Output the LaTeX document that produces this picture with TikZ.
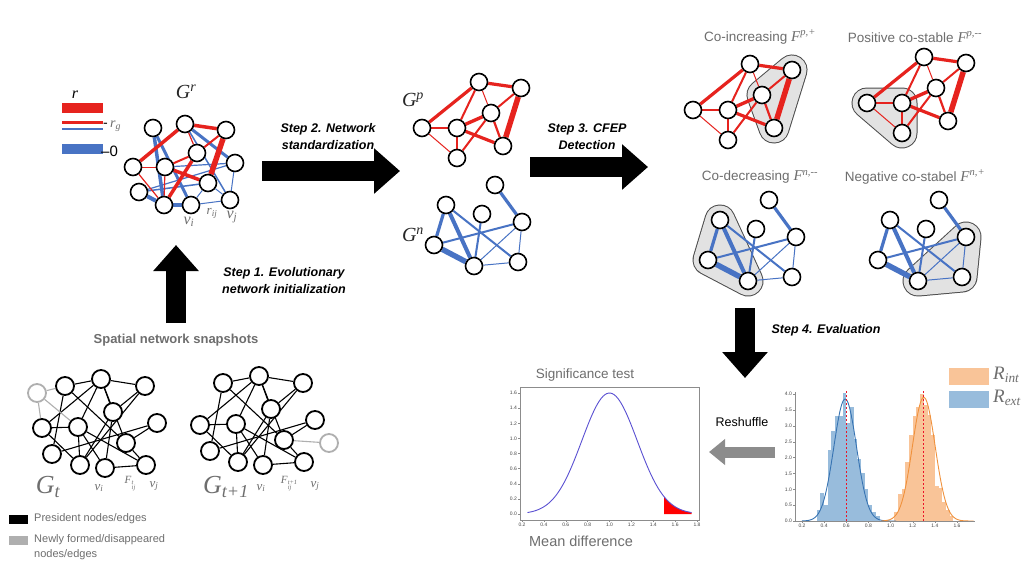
\documentclass[tikz,border=0pt]{standalone}
\usepackage{fontspec}
\setmainfont{Liberation Sans}
\newfontfamily\serif{Liberation Serif}
\usetikzlibrary{arrows.meta}
\pgfdeclarelayer{bgl}
\pgfdeclarelayer{hl}
\pgfdeclarelayer{edges}
\pgfsetlayers{bgl,hl,edges,main}
\definecolor{rr}{RGB}{230,35,30}
\definecolor{bb}{RGB}{72,115,196}
\definecolor{tx}{RGB}{110,110,110}
\definecolor{hlg}{RGB}{226,226,226}
\definecolor{lg}{RGB}{175,175,175}
\definecolor{blu}{RGB}{152,188,220}
\definecolor{ora}{RGB}{249,196,152}
\definecolor{blul}{RGB}{55,115,178}
\definecolor{oral}{RGB}{240,145,60}
\definecolor{curv}{RGB}{90,80,210}
\definecolor{ax}{RGB}{140,140,140}
\definecolor{tk}{RGB}{70,70,70}
\definecolor{dred}{RGB}{235,20,40}
\newcommand\Fm[1]{{\fontsize{15}{15}\selectfont\serif\itshape F\textsuperscript{#1}}}
\newcommand\Fst[1]{F\kern0.3pt\raisebox{-3.2pt}{\fontsize{6.5}{6.5}\selectfont\begin{tabular}{@{}l@{}}#1\\[-1.2pt]ij\end{tabular}}}
\newcommand\posnet{%
  \node[nd] (p1) at (57,-46) {};
  \node[nd] (p2) at (99,-40) {};
  \node[nd] (p3) at (69,-15) {};
  \node[nd] (p4) at (0,0) {};
  \node[nd] (p5) at (35,0) {};
  \node[nd] (p6) at (81,18) {};
  \node[nd] (p7) at (35,30) {};
  \begin{pgfonlayer}{edges}
  \foreach \a/\b/\w in {p1/p2/3.2,p1/p4/3.2,p1/p5/2,p1/p3/1,p2/p3/2,p2/p6/5.5,p3/p5/3.4,p3/p6/2.2,p3/p7/2,p5/p6/3.2,p4/p5/1.3,p4/p7/1,p5/p7/1.6}
    \draw[rr,line width=\w pt] (\a) -- (\b);
  \end{pgfonlayer}}
\newcommand\negnet{%
  \node[nd] (n1) at (61,-60) {};
  \node[nd] (n2) at (12,-40) {};
  \node[nd] (n3) at (48,-31) {};
  \node[nd] (n4) at (88,-23) {};
  \node[nd] (n5) at (0,0) {};
  \node[nd] (n6) at (40,21) {};
  \node[nd] (n7) at (84,17) {};
  \begin{pgfonlayer}{edges}
  \foreach \a/\b/\w in {n1/n4/3.2,n2/n5/3.2,n2/n6/4,n5/n6/5.5,n2/n7/2,n5/n4/2,n3/n6/2,n4/n6/1,n4/n7/1,n6/n7/1}
    \draw[bb,line width=\w pt] (\a) -- (\b);
  \end{pgfonlayer}}
\newcommand\snapnet{%
  \node[snd] (s1) at (23,-42) {};
  \node[snd] (s2) at (59,-49) {};
  \node[snd] (s3) at (103,-42) {};
  \node[snd] (s4) at (71,-16) {};
  \node[snd] (s5) at (0,0) {};
  \node[snd] (s6) at (36,-1) {};
  \node[snd] (s7) at (115,-5) {};
  \node[snd] (s8) at (84,15) {};
  \node[snd] (s9) at (10,26) {};
  \node[snd] (s10) at (38,37) {};
  \node[snd] (s11) at (63,40) {};
  \node[snd] (s12) at (104,37) {};
  \begin{pgfonlayer}{edges}
  \foreach \a/\b in {s1/s2,s2/s3,s1/s9,s1/s8,s2/s5,s2/s6,s2/s4,s2/s8,s3/s4,s3/s10,s4/s11,s4/s10,s5/s6,s9/s7,s6/s10,s6/s11,s6/s12,s8/s12,s11/s12,s7/s8,s5/s10}
    \draw[line width=1.1pt] (\a) -- (\b);
  \end{pgfonlayer}}
\newcommand\hull[3]{%
  \begin{pgfonlayer}{hl}
  \draw[line width=31pt,line join=round,black!70] (#1.center) -- (#2.center) -- (#3.center) -- cycle;
  \filldraw[line width=29pt,line join=round,draw=hlg,fill=hlg] (#1.center) -- (#2.center) -- (#3.center) -- cycle;
  \end{pgfonlayer}}
\begin{document}
\begin{tikzpicture}[x=1pt,y=-1pt,
  nd/.style={circle,draw,line width=1.6pt,fill=white,minimum size=17pt,inner sep=0pt},
  snd/.style={nd,minimum size=18pt,line width=1.8pt},
  gnd/.style={snd,draw=lg},
  stepl/.style={font=\fontsize{12.5}{17}\selectfont\bfseries\itshape,align=center},
  ttl/.style={font=\fontsize{13.5}{15}\selectfont,text=tx},
  lab/.style={font=\fontsize{16}{16}\selectfont\serif\itshape,text=tx,inner sep=0pt},
  glab/.style={lab,text=black!85,font=\fontsize{20}{20}\selectfont\serif\itshape},
  bigarrow/.style={line width=20pt,-{Triangle[length=26pt,width=44pt]}},
  grayarrow/.style={line width=11pt,draw=ax,-{Triangle[length=16pt,width=25pt]}},
  tick/.style={font=\fontsize{5}{6}\selectfont,text=tk,inner sep=1pt}]
\useasboundingbox (0,0) rectangle (1024,576);
\begin{pgfonlayer}{bgl}
\fill[white] (0,0) rectangle (1024,576);
\end{pgfonlayer}

% ---------- G^r ----------
\node[glab] (grl) at (186,92) {G\textsuperscript{r}};
\node[nd] (rA) at (153,128) {};
\node[nd] (rB) at (185,124) {};
\node[nd] (rC) at (226,130) {};
\node[nd] (rD) at (197,153) {};
\node[nd] (rE) at (133,167) {};
\node[nd] (rF) at (165,167) {};
\node[nd] (rG) at (235,163) {};
\node[nd] (rH) at (208,183) {};
\node[nd] (rI) at (139,192) {};
\node[nd] (rJ) at (164,205) {};
\node[nd] (rK) at (191,205) {};
\node[nd] (rL) at (230,200) {};
\begin{pgfonlayer}{edges}
\foreach \a/\b/\w in {rA/rJ/3.5,rA/rK/3,rI/rJ/4,rJ/rK/4,rB/rG/3,rB/rL/1.5,rI/rG/1.2,rF/rG/1.2,rK/rL/1,rH/rL/1,rG/rL/1,rK/rH/1,rI/rH/1.5}
  \draw[bb,line width=\w pt] (\a) -- (\b);
\foreach \a/\b/\w in {rB/rC/3.5,rC/rH/5.5,rB/rE/3.5,rE/rF/1,rE/rJ/1.2,rD/rF/2,rD/rJ/3.5,rF/rH/3.5,rF/rJ/1.2,rB/rD/1.2,rC/rD/2}
  \draw[rr,line width=\w pt] (\a) -- (\b);
\end{pgfonlayer}
\node[lab] (rvi) at (189,222) {v\textsubscript{i}};
\node[lab,font=\fontsize{13}{13}\selectfont\serif\itshape] (rrij) at (212,213) {r\textsubscript{ij}};
\node[lab] (rvj) at (232,217) {v\textsubscript{j}};
% r legend
\node[lab,text=black] (rlab) at (75,95) {r};
\fill[rr] (62,103) rectangle (103,113);
\draw[rr,line width=3pt] (62,122) -- (103,122);
\draw[bb,line width=2.2pt] (62,129) -- (103,129);
\fill[bb] (62,144) rectangle (103,154);
\node[anchor=west,inner sep=0pt,font=\fontsize{14}{14}\selectfont] (rgl) at (103,126) {-\,{\serif\itshape\color{tx}r\textsubscript{g}}};
\node[anchor=west,inner sep=0pt,font=\fontsize{15}{15}\selectfont] (r0l) at (101,151) {--0};

% ---------- arrows ----------
\coordinate (a2s) at (262,171); \coordinate (a2e) at (400,171);
\draw[bigarrow] (a2s) -- (a2e);
\node[stepl] (t2) at (328,137) {Step 2. Network\\standardization};
\coordinate (a3s) at (530,167); \coordinate (a3e) at (648,167);
\draw[bigarrow] (a3s) -- (a3e);
\node[stepl] (t3) at (587,137) {Step 3. CFEP\\Detection};
\coordinate (a1s) at (176,323); \coordinate (a1e) at (176,245);
\draw[bigarrow] (a1s) -- (a1e);
\node[stepl] (t1) at (284,281) {Step 1. Evolutionary\\network initialization};
\coordinate (a4s) at (745,308); \coordinate (a4e) at (745,378);
\draw[bigarrow] (a4s) -- (a4e);
\node[stepl] (t4) at (826,330) {Step 4. Evaluation};
\coordinate (a5s) at (775,452); \coordinate (a5e) at (709,452);
\draw[grayarrow] (a5s) -- (a5e);
\node[font=\fontsize{12.5}{14}\selectfont] (t5) at (742,422) {Reshuffle};

% ---------- G^p and G^n ----------
\begin{scope}[shift={(422,128)},name prefix=gp-]
\posnet
\end{scope}
\node[glab] (gpl) at (413,100) {G\textsuperscript{p}};
\begin{scope}[shift={(434,245)},name prefix=gn-]
\negnet
\end{scope}
\node[glab] (gnl) at (413,235) {G\textsuperscript{n}};

% ---------- CFEP results ----------
\node[ttl] (tfa) at (760,37) {Co-increasing \Fm{p,+}};
\begin{scope}[shift={(693,110)},name prefix=fa-]
\posnet
\hull{p2}{p3}{p6}
\end{scope}
\node[ttl] (tfb) at (915,37) {Positive co-stable \Fm{p,--}};
\begin{scope}[shift={(867,103)},name prefix=fb-]
\posnet
\hull{p4}{p5}{p7}
\end{scope}
\node[ttl] (tfc) at (760,177) {Co-decreasing \Fm{n,--}};
\begin{scope}[shift={(708,260)},name prefix=fc-]
\negnet
\hull{n2}{n5}{n6}
\end{scope}
\node[ttl] (tfd) at (915,177) {Negative co-stabel \Fm{n,+}};
\begin{scope}[shift={(878,260)},name prefix=fd-]
\negnet
\hull{n4}{n6}{n7}
\end{scope}

% ---------- snapshots ----------
\node[font=\fontsize{13}{15}\selectfont\bfseries,text=tx] (snt) at (176,340) {Spatial network snapshots};
\begin{scope}[shift={(42,428)},name prefix=gt-]
\snapnet
\node[gnd] (s0) at (-5,-35) {};
\begin{pgfonlayer}{edges}
\foreach \b in {s1,s5,s6} \draw[lg,line width=1.1pt] (s0) -- (\b);
\end{pgfonlayer}
\end{scope}
\begin{scope}[shift={(200,425)},name prefix=gu-]
\snapnet
\node[gnd] (s0) at (129,18) {};
\begin{pgfonlayer}{edges}
\draw[lg,line width=1.1pt] (s0) -- (s8);
\end{pgfonlayer}
\end{scope}
\node[lab,font=\fontsize{26}{26}\selectfont\serif\itshape] (gtl) at (48,487) {G\textsubscript{t}};
\node[lab,font=\fontsize{26}{26}\selectfont\serif\itshape] (gul) at (226,487) {G\textsubscript{t+1}};
\node[lab,font=\fontsize{13}{13}\selectfont\serif\itshape] (tvi) at (99,488) {v\textsubscript{i}};
\node[lab,font=\fontsize{11}{11}\selectfont\serif\itshape] (tF) at (130,484) {\Fst{t}};
\node[lab,font=\fontsize{13}{13}\selectfont\serif\itshape] (tvj) at (154,486) {v\textsubscript{j}};
\node[lab,font=\fontsize{13}{13}\selectfont\serif\itshape] (uvi) at (261,488) {v\textsubscript{i}};
\node[lab,font=\fontsize{11}{11}\selectfont\serif\itshape] (uF) at (289,484) {\Fst{t+1}};
\node[lab,font=\fontsize{13}{13}\selectfont\serif\itshape] (uvj) at (315,486) {v\textsubscript{j}};
% legend
\node[fill=black,minimum width=19pt,minimum height=9pt,inner sep=0pt] (lb1) at (18,519) {};
\node[fill=lg,minimum width=19pt,minimum height=9pt,inner sep=0pt] (lb2) at (18,540) {};
\node[anchor=west,inner sep=0pt,font=\fontsize{11}{15}\selectfont,text=tx] (lt1) at (34,519) {President nodes/edges};
\node[anchor=north west,inner sep=0pt,font=\fontsize{11}{15}\selectfont,text=tx,align=left] (lt2) at (34,534) {Newly formed/disappeared\\nodes/edges};

% ---------- significance test ----------
\node[font=\fontsize{13.5}{15}\selectfont,text=tx] (sgt) at (585,375) {Significance test};
\node[font=\fontsize{14.5}{16}\selectfont,text=tx] (mdl) at (581,541) {Mean difference};
\fill[red] ({522+1.3*109.4},514) -- plot[domain=1.5:1.75,samples=20] ({522+(\x-0.2)*109.4},{514-1.6*exp(-(\x-1)*(\x-1)/0.128)*75.6}) -- ({522+1.55*109.4},514) -- cycle;
\draw[curv,line width=0.9pt] plot[domain=0.25:1.75,samples=90] ({522+(\x-0.2)*109.4},{514-1.6*exp(-(\x-1)*(\x-1)/0.128)*75.6});
\draw[ax,line width=0.6pt] (520,387) rectangle (699,520);
\foreach \v [count=\i] in {0.0,0.2,0.4,0.6,0.8,1.0,1.2,1.4,1.6} {
  \draw[ax,line width=0.4pt] (520,{514-\v*75.6}) -- (518,{514-\v*75.6});
  \node[tick,anchor=east] (sy\i) at (518,{514-\v*75.6}) {\v};}
\foreach \v [count=\i] in {0.2,0.4,0.6,0.8,1.0,1.2,1.4,1.6,1.8} {
  \draw[ax,line width=0.4pt] ({522+(\v-0.2)*109.4},520) -- ({522+(\v-0.2)*109.4},522);
  \node[tick,anchor=north] (sx\i) at ({522+(\v-0.2)*109.4},522) {\v};}

% ---------- histogram ----------
\foreach \c/\h in {0.35/0.35,0.383/0.87,0.417/0.5,0.45/2.25,0.483/2.85,0.517/3.3,0.55/3.3,0.583/4.05,0.617/3.1,0.65/3.6,0.683/2.6,0.717/1.95,0.75/1.5,0.783/1.0,0.817/0.5,0.85/0.3,0.883/0.15}
  \fill[blu] ({802+(\c-0.2)*110.7-1.9},521) rectangle ({802+(\c-0.2)*110.7+1.9},{521-\h*31.7});
\foreach \c/\h in {1.05/0.3,1.083/0.85,1.117/1.0,1.15/1.85,1.183/2.7,1.217/3.3,1.25/3.6,1.283/4.0,1.317/3.65,1.35/3.35,1.383/2.7,1.417/1.1,1.45/1.05,1.483/0.6,1.517/0.35,1.55/0.15}
  \fill[ora] ({802+(\c-0.2)*110.7-1.9},521) rectangle ({802+(\c-0.2)*110.7+1.9},{521-\h*31.7});
\draw[blul,line width=0.9pt] plot[domain=0.2:1.05,samples=70] ({802+(\x-0.2)*110.7},{521-3.85*exp(-(\x-0.59)*(\x-0.59)/0.021)*31.7});
\draw[oral,line width=0.9pt] plot[domain=0.92:1.75,samples=70] ({802+(\x-0.2)*110.7},{521-3.9*exp(-(\x-1.3)*(\x-1.3)/0.021)*31.7});
\draw[dred,line width=1.1pt,dash pattern=on 2.5pt off 1.5pt] ({802+0.4*110.7},521) -- ({802+0.4*110.7},{521-4.1*31.7});
\draw[dred,line width=1.1pt,dash pattern=on 2.5pt off 1.5pt] ({802+1.1*110.7},521) -- ({802+1.1*110.7},{521-4.1*31.7});
\draw[ax,line width=0.6pt] (795,392) -- (795,521) -- (975,521);
\foreach \v [count=\i] in {0.0,0.5,1.0,1.5,2.0,2.5,3.0,3.5,4.0} {
  \draw[ax,line width=0.4pt] (795,{521-\v*31.7}) -- (793,{521-\v*31.7});
  \node[tick,anchor=east] (hy\i) at (793,{521-\v*31.7}) {\v};}
\foreach \v [count=\i] in {0.2,0.4,0.6,0.8,1.0,1.2,1.4,1.6} {
  \draw[ax,line width=0.4pt] ({802+(\v-0.2)*110.7},521) -- ({802+(\v-0.2)*110.7},523);
  \node[tick,anchor=north] (hx\i) at ({802+(\v-0.2)*110.7},523) {\v};}
\node[fill=ora,minimum width=40pt,minimum height=17pt,inner sep=0pt] (lgo) at (969,376) {};
\node[fill=blu,minimum width=40pt,minimum height=17pt,inner sep=0pt] (lgb) at (969,399) {};
\node[lab,anchor=west,font=\fontsize{19}{19}\selectfont\serif\itshape] (lri) at (993,375) {R\textsubscript{int}};
\node[lab,anchor=west,font=\fontsize{19}{19}\selectfont\serif\itshape] (lre) at (993,398) {R\textsubscript{ext}};
\end{tikzpicture}
\end{document}
